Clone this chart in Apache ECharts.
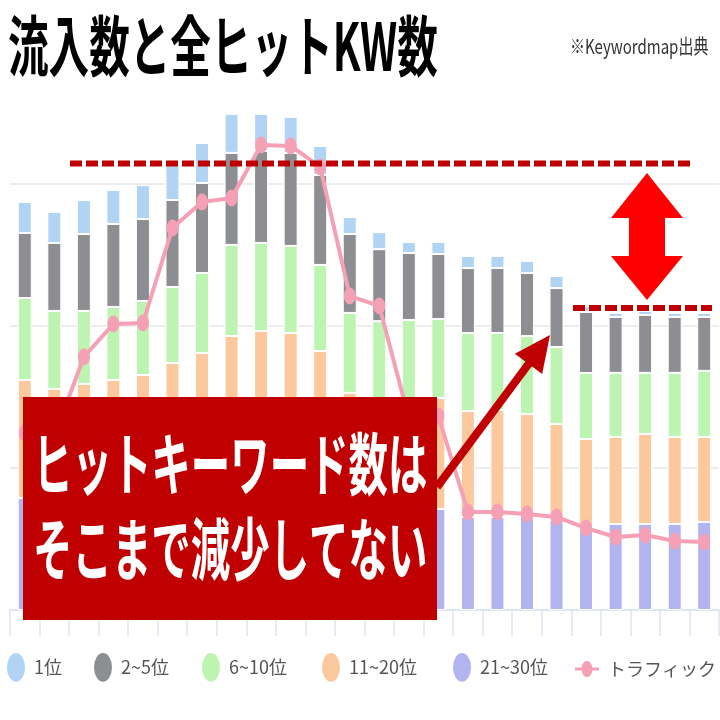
<!DOCTYPE html>
<html><head><meta charset="utf-8">
<script src="https://cdn.jsdelivr.net/npm/echarts@6/dist/echarts.min.js"></script>
<style>html,body{margin:0;padding:0;background:#fff}#c{width:720px;height:720px}</style>
</head><body><div id="c"></div>
<script>
// ---- data ----
const categories = ['2019/01','2019/02','2019/03','2019/04','2019/05','2019/06','2019/07','2019/08','2019/09','2019/10','2019/11','2019/12',
  '2020/01','2020/02','2020/03','2020/04','2020/05','2020/06','2020/07','2020/08','2020/09','2020/10','2020/11','2020/12'];
const seriesNames = ['1位','2~5位','6~10位','11~20位','21~30位','トラフィック'];
const rank1     = [218,218,239,239,239,246,282,275,261,254,204,120,120,77,85,85,85,85,85,42,28,28,28,28];
const rank2to5  = [458,479,542,585,577,613,634,648,648,655,634,556,507,472,458,458,458,444,415,430,394,408,394,380];
const rank6to10 = [577,549,514,514,521,535,563,641,620,613,606,563,556,563,556,549,542,549,542,465,451,430,451,465];
const rank11to20= [831,796,817,831,845,894,930,1000,1014,1007,944,754,739,754,782,746,754,711,676,641,613,634,613,599];
const rank21to30= [789,761,775,789,810,845,880,930,951,944,880,775,739,725,711,655,655,669,634,563,606,606,606,620];
const traffic   = [12470,12250,17820,20140,20210,26900,28730,29010,32750,32680,31200,22110,21410,13520,13660,6900,6900,6760,6550,5770,5140,5280,4860,4790];

// ---- style ----
const colors = ['#b1d4f4','#8d8e91','#bef4b1','#fcc89e','#b2b4f0','#f5a0b5'];
const FONT = '"Noto Sans CJK JP","Noto Sans",sans-serif';
const ELLIPSE = 'path://M50,0A50,80,0,1,1,50,160A50,80,0,1,1,50,0Z';
const LINEICON = 'path://M0,6.5H24V9.5H0Z M12,0A5.5,8,0,1,1,12,16A5.5,8,0,1,1,12,0Z';
const POINT = 'path://M50,0A50,70,0,1,1,50,140A50,70,0,1,1,50,0Z';

const barData = [rank1, rank2to5, rank6to10, rank11to20, rank21to30];
// stack from bottom: 21~30位 first
const barSeries = [4,3,2,1,0].map(i => ({
  name: seriesNames[i], type: 'bar', stack: 'kw', barWidth: 14,
  data: barData[i],
  itemStyle: { color: colors[i], borderColor: '#fff', borderWidth: 1 }
}));
const lineSeries = {
  name: seriesNames[5], type: 'line', yAxisIndex: 1, data: traffic,
  symbol: POINT, symbolSize: [12, 17], showAllSymbol: true,
  lineStyle: { color: colors[5], width: 4 },
  itemStyle: { color: colors[5] }, z: 5
};

const legendLefts = [7, 94, 202, 322, 453, 575];
const legends = seriesNames.map((n, i) => ({
  data: [{ name: n, icon: i === 5 ? LINEICON : ELLIPSE }],
  left: legendLefts[i], top: i === 5 ? 660 : 653, padding: 0,
  itemWidth: i === 5 ? 24 : 18, itemHeight: i === 5 ? 16 : 30,
  itemStyle: { borderWidth: 0 },
  textStyle: { fontSize: 18, color: '#555', fontFamily: FONT, padding: [0, 0, 0, 4] }
}));

// arrow geometry (annotation)
const tail = [437, 487], tip = [550, 335];
const dx = tip[0]-tail[0], dy = tip[1]-tail[1], L = Math.hypot(dx, dy);
const ux = dx/L, uy = dy/L, px = -uy, py = ux;
const headLen = 36, headHalf = 17;
const bx = tip[0]-ux*headLen, by = tip[1]-uy*headLen;

const chart = echarts.init(document.getElementById('c'));
chart.setOption({
  animation: false,
  backgroundColor: '#fff',
  color: colors,
  legend: legends,
  grid: { left: 10, right: 1, top: 42, bottom: 110 },
  xAxis: {
    type: 'category', data: categories, boundaryGap: true,
    axisLine: { lineStyle: { color: '#e0e6f1', width: 2 } },
    axisTick: { show: true, interval: 0, length: 26, lineStyle: { color: '#e0e6f1', width: 1.5 } },
    axisLabel: { show: false }
  },
  yAxis: [
    { type: 'value', min: 0, max: 4000, interval: 1000,
      axisLine: { show: false }, axisTick: { show: false }, axisLabel: { show: false },
      splitLine: { lineStyle: { color: ['#ededed','#ededed','#ededed','#ededed','rgba(0,0,0,0)'], width: 2 } } },
    { type: 'value', min: 0, max: 40000, interval: 10000, show: false, splitLine: { show: false } }
  ],
  series: [...barSeries, lineSeries],
  graphic: { elements: [
    { type: 'text', x: 8, y: 46, scaleX: 0.615, z: 100,
      style: { text: '流入数と全ヒットKW数', font: 'bold 66px ' + FONT, fill: '#000', align: 'left', verticalAlign: 'middle' } },
    { type: 'text', x: 570, y: 46, scaleX: 0.75, z: 100,
      style: { text: '※Keywordmap出典', font: '20px ' + FONT, fill: '#333', align: 'left', verticalAlign: 'middle' } },
    { type: 'line', z: 100, shape: { x1: 70, y1: 163.5, x2: 692, y2: 163.5 },
      style: { stroke: '#c00000', lineWidth: 6, lineDash: [12, 4] } },
    { type: 'line', z: 100, shape: { x1: 573, y1: 308, x2: 712, y2: 308 },
      style: { stroke: '#c00000', lineWidth: 6, lineDash: [12, 4] } },
    { type: 'polygon', z: 100, shape: { points: [[647,173],[683,218],[665,218],[665,256],[683,256],[647,300],[611,256],[629,256],[629,218],[611,218]] },
      style: { fill: '#ff0000' } },
    { type: 'line', z: 100, shape: { x1: tail[0], y1: tail[1], x2: bx + ux*2, y2: by + uy*2 },
      style: { stroke: '#c00000', lineWidth: 8 } },
    { type: 'polygon', z: 100, shape: { points: [tip, [bx+px*headHalf, by+py*headHalf], [bx-px*headHalf, by-py*headHalf]] },
      style: { fill: '#c00000' } },
    { type: 'rect', z: 100, shape: { x: 23, y: 397, width: 414, height: 223 }, style: { fill: '#c00000' } },
    { type: 'text', x: 33, y: 464, scaleX: 0.58, z: 101,
      style: { text: 'ヒットキーワード数は', font: 'bold 68px ' + FONT, fill: '#fff', align: 'left', verticalAlign: 'middle' } },
    { type: 'text', x: 33, y: 549, scaleX: 0.58, z: 101,
      style: { text: 'そこまで減少してない', font: 'bold 68px ' + FONT, fill: '#fff', align: 'left', verticalAlign: 'middle' } }
  ] }
});
</script></body></html>
